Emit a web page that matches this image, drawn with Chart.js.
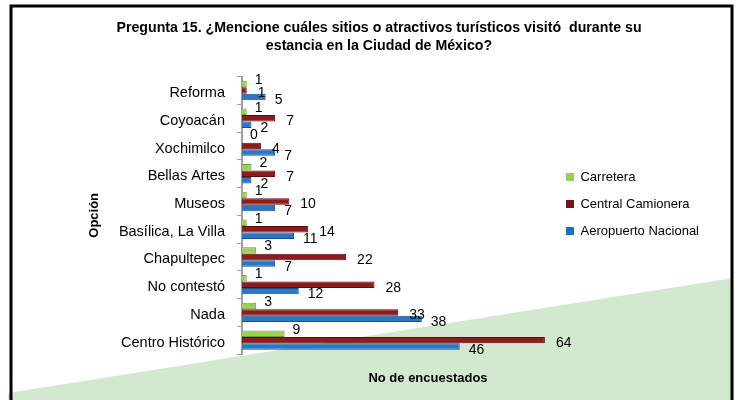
<!DOCTYPE html>
<html>
<head>
<meta charset="utf-8">
<script src="https://cdn.jsdelivr.net/npm/chart.js@4/dist/chart.umd.min.js"></script>
<style>
  html, body { margin: 0; padding: 0; background: #fff; }
  #wrap { width: 738px; height: 400px; position: relative; }
</style>
</head>
<body>
<div id="wrap"><canvas id="chart"></canvas></div>
<script>
const categories = [
  'Reforma', 'Coyoacán', 'Xochimilco', 'Bellas Artes', 'Museos',
  'Basílica, La Villa', 'Chapultepec', 'No contestó', 'Nada', 'Centro Histórico'
]
const carretera = [1, 1, 0, 2, 1, 1, 3, 1, 3, 9]
const centralCamionera = [1, 7, 4, 7, 10, 14, 22, 28, 33, 64]
const aeropuertoNacional = [5, 2, 7, 2, 7, 11, 7, 12, 38, 46]

const FONT = "'Liberation Sans', Arial, sans-serif"
Chart.defaults.font.family = FONT
Chart.defaults.font.size = 13
Chart.defaults.color = '#000'

// frame + green wedge behind the chart
const background = {
  id: 'background',
  beforeDraw: (chart) => {
    const { ctx, width, height } = chart
    ctx.save()
    ctx.fillStyle = '#fff'
    ctx.fillRect(0, 0, width, height)
    ctx.fillStyle = '#d3e9cf'
    ctx.beginPath()
    ctx.moveTo(8, 393)
    ctx.lineTo(733, 278)
    ctx.lineTo(733, height)
    ctx.lineTo(8, height)
    ctx.closePath()
    ctx.fill()
    ctx.strokeStyle = '#000'
    ctx.lineWidth = 3
    ctx.beginPath()
    ctx.moveTo(11, height)
    ctx.lineTo(11, 6)
    ctx.lineTo(732, 6)
    ctx.lineTo(732, height)
    ctx.stroke()
    ctx.restore()
  }
}

// value labels next to the bar ends, plus the x axis title (centred like Excel's plot area)
const labelOffsets = [[8, -4], [11, 3], [9, 3.5]]
const valueLabels = {
  id: 'valueLabels',
  afterDatasetsDraw: (chart) => {
    const { ctx } = chart
    ctx.save()
    ctx.font = `14px ${FONT}`
    ctx.fillStyle = '#000'
    ctx.textAlign = 'left'
    ctx.textBaseline = 'middle'
    chart.data.datasets.forEach((ds, i) => {
      const [dx, dy] = labelOffsets[i]
      chart.getDatasetMeta(i).data.forEach((bar, j) => {
        ctx.fillText(String(ds.data[j]), bar.x + dx, bar.y + dy)
      })
    })
    ctx.font = `bold 13px ${FONT}`
    ctx.textAlign = 'center'
    ctx.fillText('No de encuestados', 428, 378)
    ctx.restore()
  }
}

const ctx = document.getElementById('chart').getContext('2d')
const chart = new Chart(ctx, {
  type: 'bar',
  data: {
    labels: categories,
    datasets: [
      {
        label: 'Carretera',
        data: carretera,
        backgroundColor: '#9ccf58',
        borderColor: '#6f9e35',
        borderWidth: 1,
        legendColor: '#92d050'
      },
      {
        label: 'Central Camionera',
        data: centralCamionera,
        backgroundColor: '#8e1c1c',
        borderColor: '#5a0c0c',
        borderWidth: 1,
        legendColor: '#7b1416'
      },
      {
        label: 'Aeropuerto Nacional',
        data: aeropuertoNacional,
        backgroundColor: '#2a76c6',
        borderColor: '#1a4f8c',
        borderWidth: 1,
        legendColor: '#1a6fc0'
      }
    ]
  },
  options: {
    indexAxis: 'y',
    responsive: true,
    maintainAspectRatio: false,
    animation: false,
    categoryPercentage: 0.7,
    barPercentage: 1,
    layout: { padding: { top: 8, left: 49, right: 29, bottom: 0 } },
    scales: {
      x: {
        min: 0,
        max: 65.5,
        ticks: { display: false },
        grid: { display: false },
        border: { display: false },
        title: { display: false },
        afterFit: (scale) => { scale.height = 46 }
      },
      y: {
        ticks: { padding: 12, labelOffset: 2.5, font: { size: 14.5 }, color: '#000' },
        grid: { drawOnChartArea: false, tickLength: 5, color: '#a0a0a0', offset: true },
        border: { color: '#a0a0a0', width: 2 },
        title: {
          display: true,
          text: 'Opción',
          font: { size: 13, weight: 'bold' },
          padding: { top: 38, bottom: 0 }
        },
        afterFit: (scale) => { scale.width = 193 }
      }
    },
    plugins: {
      title: {
        display: true,
        text: [
          'Pregunta 15. ¿Mencione cuáles sitios o atractivos turísticos visitó  durante su',
          'estancia en la Ciudad de México?'
        ],
        font: { size: 14.2, weight: 'bold', lineHeight: 1.27 },
        color: '#000',
        padding: { top: 11, bottom: 21.6 }
      },
      legend: {
        position: 'right',
        labels: {
          boxWidth: 8,
          boxHeight: 8,
          padding: 14,
          font: { size: 13 },
          color: '#000',
          generateLabels: (c) => Chart.defaults.plugins.legend.labels.generateLabels(c).map((l) => ({
            ...l,
            fillStyle: c.data.datasets[l.datasetIndex].legendColor,
            lineWidth: 0
          }))
        }
      },
      tooltip: { enabled: false }
    }
  },
  plugins: [background, valueLabels]
})
</script>
</body>
</html>
